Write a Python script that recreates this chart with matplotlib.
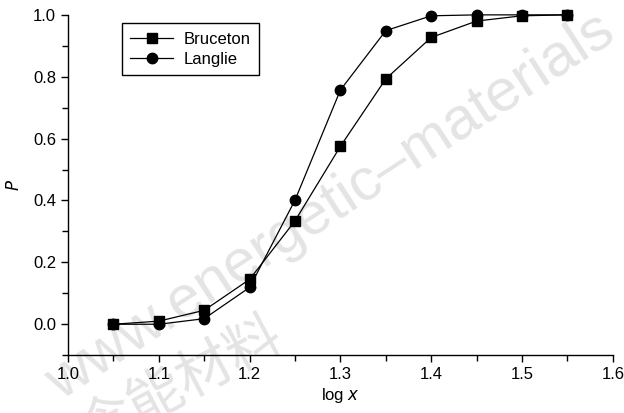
import numpy as np
import matplotlib.pyplot as plt
from matplotlib.ticker import MultipleLocator

log_x = [1.05, 1.10, 1.15, 1.20, 1.25, 1.30, 1.35, 1.40, 1.45, 1.50, 1.55]
bruceton = [0.0, 0.01, 0.045, 0.145, 0.334, 0.575, 0.793, 0.927, 0.98, 0.997, 1.0]
langlie = [0.0, 0.0, 0.018, 0.119, 0.401, 0.757, 0.949, 0.997, 1.0, 1.0, 1.0]

x_ticks = [1.0, 1.1, 1.2, 1.3, 1.4, 1.5, 1.6]
y_ticks = [0.0, 0.2, 0.4, 0.6, 0.8, 1.0]

plt.rcParams['font.family'] = ['Liberation Sans', 'Noto Sans CJK SC', 'DejaVu Sans']

fig = plt.figure(figsize=(6.24, 4.13), dpi=100)
ax = fig.add_axes([0.109, 0.140, 0.873, 0.824])

# watermark (faint, behind the plot)
fig.text(0.53, 0.50, 'www.energetic\u2013materials', fontsize=43, color='#e4e4e4',
         rotation=33, ha='center', va='center', zorder=-1,
         family=['Liberation Sans', 'DejaVu Sans'])
fig.text(0.29, 0.07, '含能材料', fontsize=40, color='#e4e4e4',
         rotation=28, ha='center', va='center', zorder=-1,
         family=['Noto Sans CJK SC', 'DejaVu Sans'])

ax.patch.set_alpha(0)
ax.plot(log_x, bruceton, color='black', lw=0.9, marker='s', ms=7, label='Bruceton', clip_on=False)
ax.plot(log_x, langlie, color='black', lw=0.9, marker='o', ms=7.5, label='Langlie', clip_on=False)

ax.set_xlim(1.0, 1.6)
ax.set_ylim(-0.1, 1.0)
ax.set_xticks(x_ticks)
ax.set_yticks(y_ticks)
ax.set_xticklabels([f'{t:.1f}' for t in x_ticks])
ax.set_yticklabels([f'{t:.1f}' for t in y_ticks])
ax.xaxis.set_minor_locator(MultipleLocator(0.05))
ax.yaxis.set_minor_locator(MultipleLocator(0.1))
ax.tick_params(which='both', direction='out', labelsize=12, width=1)
ax.tick_params(which='major', length=5)
ax.tick_params(which='minor', length=4)

for s in ['top', 'right']:
    ax.spines[s].set_visible(False)
for s in ['left', 'bottom']:
    ax.spines[s].set_linewidth(1)

ax.set_xlabel('log $\\it{x}$', fontsize=12, labelpad=3)
ax.set_ylabel('$\\it{P}$', fontsize=12, labelpad=8)

leg = ax.legend(loc='upper left', bbox_to_anchor=(0.083, 1.0), fontsize=12,
                frameon=True, fancybox=False, edgecolor='black', framealpha=1,
                handlelength=2.6, borderpad=0.5, labelspacing=0.3, handletextpad=0.6)
leg.get_frame().set_linewidth(1)

fig.savefig('out.png', dpi=100)
